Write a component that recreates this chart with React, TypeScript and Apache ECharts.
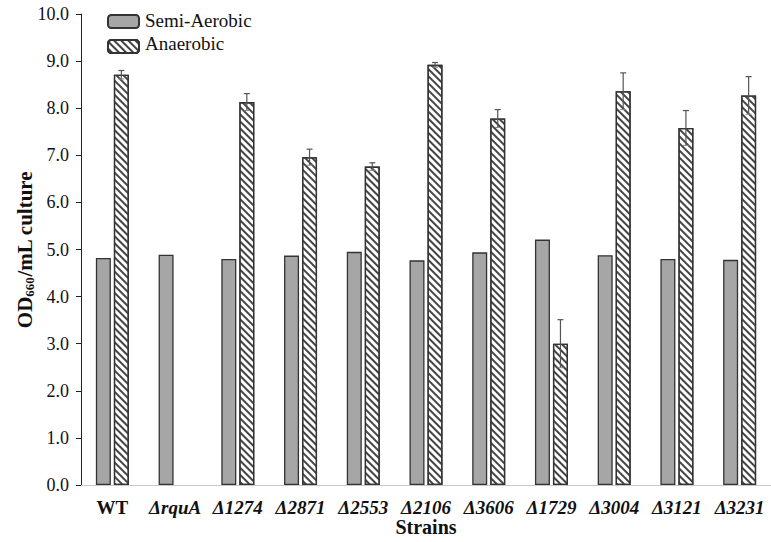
import React, { useEffect, useRef } from "react";
import * as echarts from "echarts";

const categories = ["WT", "ΔrquA", "Δ1274", "Δ2871", "Δ2553", "Δ2106", "Δ3606", "Δ1729", "Δ3004", "Δ3121", "Δ3231"];
const semiAerobic = [4.82, 4.89, 4.8, 4.87, 4.95, 4.77, 4.94, 5.21, 4.88, 4.8, 4.78];
const anaerobic: (number | null)[] = [8.71, null, 8.13, 6.96, 6.76, 8.92, 7.78, 3.0, 8.36, 7.58, 8.27];
const anaerobicErr: (number | null)[] = [0.09, null, 0.18, 0.17, 0.08, 0.05, 0.19, 0.51, 0.39, 0.37, 0.4];
const seriesNames = ["Semi-Aerobic", "Anaerobic"];
const yMin = 0;
const yMax = 10;
const yInterval = 1;

const FONT = "Liberation Serif";

export default function App() {
  const ref = useRef<HTMLDivElement>(null);
  useEffect(() => {
    if (!ref.current) return;
    const chart = echarts.init(ref.current, null, { renderer: "svg" });
    const BAR_W = 15;
    const GAP = 3;
    const offset = (BAR_W + GAP) / 2;
    const LEG_LEFT = 107;
    const LEG_TOP = 14;
    const ICON_W = 31;
    const ICON_H = 13;
    const LEG_GAP = 10;
    const errData = anaerobic
      .map((v, i) => (v == null || anaerobicErr[i] == null ? null : [i, v, anaerobicErr[i]]))
      .filter((d) => d != null);
    chart.setOption({
      animation: false,
      backgroundColor: "#fff",
      textStyle: { fontFamily: FONT },
      grid: { left: 81, top: 14, height: 474, width: 704 },
      legend: {
        data: seriesNames,
        orient: "vertical",
        left: LEG_LEFT,
        top: LEG_TOP,
        padding: 0,
        itemWidth: ICON_W,
        itemHeight: ICON_H,
        itemGap: LEG_GAP,
        formatter: () => "",
        textStyle: { fontSize: 1, lineHeight: 1 },
      },
      graphic: seriesNames.map((n, k) => ({
        type: "text",
        left: LEG_LEFT + ICON_W + 7,
        top: LEG_TOP + k * (ICON_H + LEG_GAP) + ICON_H / 2 - 11,
        style: { text: n, fontFamily: FONT, fontSize: 19, fill: "#111", lineHeight: 22 },
      })),
      xAxis: {
        type: "category",
        data: categories,
        name: "Strains",
        nameLocation: "middle",
        nameGap: 32,
        nameMoveOverlap: false,
        nameTextStyle: { fontFamily: FONT, fontSize: 20, fontWeight: "bold", color: "#111" },
        axisLine: { lineStyle: { color: "#c8c8c8", width: 1 } },
        axisTick: { show: false },
        axisLabel: {
          margin: 13,
          interval: 0,
          formatter: (v: string) => (v === "WT" ? "{w|" + v + "}" : "{i|" + v + "}"),
          rich: {
            w: { fontFamily: FONT, fontSize: 19, fontWeight: "bold", color: "#111" },
            i: { fontFamily: FONT, fontSize: 19, fontWeight: "bold", fontStyle: "italic", color: "#111" },
          },
        },
      },
      yAxis: {
        type: "value",
        min: yMin,
        max: yMax,
        interval: yInterval,
        name: "{b|OD}{s|660}{b|/mL culture}",
        nameLocation: "middle",
        nameGap: 45,
        nameMoveOverlap: false,
        nameRotate: 90,
        nameTextStyle: {
          rich: {
            b: { fontFamily: FONT, fontSize: 21, fontWeight: "bold", color: "#111" },
            s: { fontFamily: FONT, fontSize: 13, fontWeight: "bold", color: "#111", padding: [9, 0, 0, 0] },
          },
        },
        splitLine: { show: false },
        axisLine: { show: true, lineStyle: { color: "#222", width: 1 } },
        axisTick: { show: true, length: 5, inside: false, lineStyle: { color: "#222" } },
        axisLabel: {
          margin: 12,
          fontFamily: FONT,
          fontSize: 18,
          color: "#111",
          formatter: (v: number) => v.toFixed(1),
        },
      },
      series: [
        {
          name: seriesNames[0],
          type: "bar",
          data: semiAerobic,
          barWidth: BAR_W,
          barGap: (GAP / BAR_W) * 100 + "%",
          itemStyle: { color: "#a6a6a6", borderColor: "#333", borderWidth: 1.3 },
        },
        {
          name: seriesNames[1],
          type: "bar",
          data: anaerobic,
          barWidth: BAR_W,
          itemStyle: {
            color: "#fff",
            borderColor: "#333",
            borderWidth: 1.3,
            decal: {
              symbol: "rect",
              symbolSize: 1,
              color: "#444",
              dashArrayX: [1, 0],
              dashArrayY: [1.4, 3],
              rotation: Math.PI / 4,
            },
          },
        },
        {
          type: "custom",
          name: "err",
          data: errData,
          z: 10,
          renderItem: (params: any, api: any) => {
            const i = api.value(0);
            const v = api.value(1);
            const e = api.value(2);
            const top = api.coord([i, v + e]);
            const bot = api.coord([i, v - e]);
            const x = top[0] + offset;
            const cap = 3;
            const style = { stroke: "#555", lineWidth: 1.2 };
            return {
              type: "group",
              children: [
                { type: "line", shape: { x1: x, y1: top[1], x2: x, y2: bot[1] }, style },
                { type: "line", shape: { x1: x - cap, y1: top[1], x2: x + cap, y2: top[1] }, style },
                { type: "line", shape: { x1: x - cap, y1: bot[1], x2: x + cap, y2: bot[1] }, style: { stroke: "#888", lineWidth: 1 } },
              ],
            };
          },
        },
      ],
    });
    return () => chart.dispose();
  }, []);
  return <div ref={ref} style={{ position: "absolute", left: 0, top: 0, width: 771, height: 542 }} />;
}
